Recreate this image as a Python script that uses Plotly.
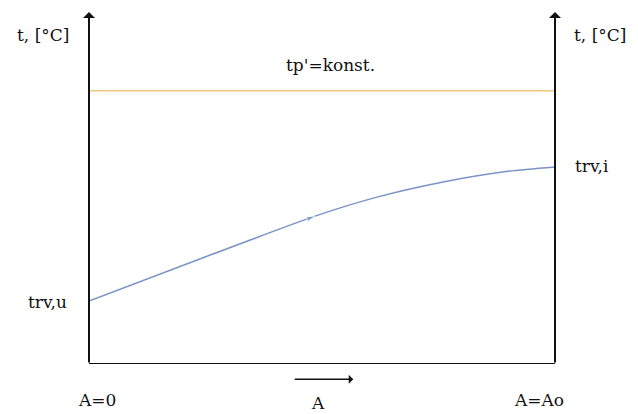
"""Heat exchanger temperature profile sketch"""

import plotly.graph_objects as go

# relative area A/Ao and temperatures (relative units)
area = [0.0, 0.249, 0.485, 0.618, 0.760, 0.903, 1.0]
t_water = [0.179, 0.304, 0.420, 0.474, 0.517, 0.548, 0.560]
t_steam = [0.776, 0.776]
steam_area = [0.0, 1.0]

font_name = "DejaVu Serif"
fsize = 17

fig = go.Figure()

fig.add_trace(
    go.Scatter(
        x=steam_area,
        y=t_steam,
        mode="lines",
        line=dict(color="#EBC77A", width=1.5),
        hoverinfo="skip",
    )
)

# blue curve with a little arrow head in the middle
marker_sizes = [0, 0, 9, 0, 0, 0, 0]
fig.add_trace(
    go.Scatter(
        x=area,
        y=t_water,
        mode="lines+markers",
        line=dict(color="#7A94C8", width=1.5, shape="spline", smoothing=0.6),
        marker=dict(symbol="arrow", angleref="previous", size=marker_sizes,
                    color="#7A94C8"),
        hoverinfo="skip",
    )
)

black = "#111111"
# axis lines
fig.add_shape(type="line", x0=0, y0=0, x1=1, y1=0, line=dict(color=black, width=2))
for xv in [0, 1]:
    fig.add_annotation(
        x=xv, y=1.0, ax=0, ay=352, xref="paper", yref="paper",
        text="", showarrow=True, arrowhead=1, arrowsize=1, arrowwidth=2,
        arrowcolor=black,
    )
# arrow above A
fig.add_annotation(
    x=0.567, y=-0.043, xref="paper", yref="paper",
    text="", showarrow=True, ax=-60, ay=0, arrowhead=1, arrowsize=1,
    arrowwidth=1.5, arrowcolor=black,
)

labels = [
    ("t, [°C]", -0.099, 0.935),
    ("t, [°C]", 1.097, 0.935),
    ("tp'=konst.", 0.519, 0.849),
    ("trv,u", -0.088, 0.176),
    ("trv,i", 1.079, 0.5625),
    ("A=0", 0.017, -0.102),
    ("A", 0.491, -0.111),
    ("A=Ao", 0.966, -0.102),
]
for txt, xv, yv in labels:
    fig.add_annotation(
        x=xv, y=yv, xref="paper", yref="paper", text=txt, showarrow=False,
        xanchor="center", yanchor="middle",
        font=dict(family=font_name, size=fsize, color=black),
    )

fig.update_layout(
    width=638,
    height=414,
    showlegend=False,
    plot_bgcolor="white",
    paper_bgcolor="white",
    margin=dict(l=81, r=91, t=4, b=58),
)
fig.update_xaxes(range=[0, 1], visible=False)
fig.update_yaxes(range=[0, 1], visible=False)

fig.write_html("out.html")
